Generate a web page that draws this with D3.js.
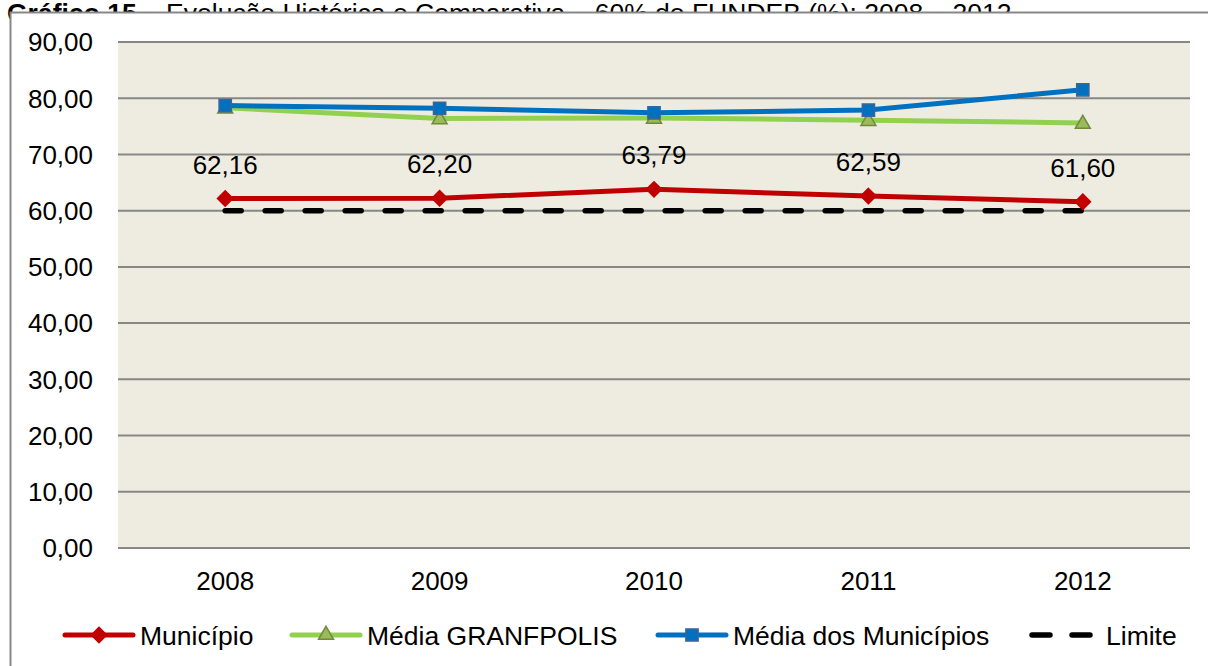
<!DOCTYPE html>
<meta charset="utf-8">
<style>
    body { margin: 0; background: #fff; }
    svg text { font-family: "Liberation Sans", Arial, sans-serif; fill: #000; }
    .grid line { stroke: #878787; stroke-width: 2px; }
    .series { fill: none; stroke-linejoin: round; stroke-linecap: round; }
</style>
<svg width="1208" height="666"></svg>
<script src="https://cdn.jsdelivr.net/npm/d3@7/dist/d3.min.js"></script>
<script>

    // values
    var years = ["2008", "2009", "2010", "2011", "2012"];
    var municipio = [62.16, 62.20, 63.79, 62.59, 61.60];
    var mediaGranfpolis = [78.3, 76.4, 76.5, 76.1, 75.6];
    var mediaMunicipios = [78.7, 78.2, 77.4, 77.9, 81.5];
    var limite = [60, 60, 60, 60, 60];
    var yTicks = [0, 10, 20, 30, 40, 50, 60, 70, 80, 90];

    var svg = d3.select("svg");
    var fmt = function (v) { return d3.format(".2f")(v).replace(".", ","); };

    // title, partly hidden behind the chart frame
    var title = svg.append("text").attr("x", 7).attr("y", 22).style("font-size", "26.5px");
    title.append("tspan").style("font-weight", "bold").text("Gráfico 15");
    title.append("tspan").text(" – Evolução Histórica e Comparativa – 60% do FUNDEB (%): 2008 – 2012");

    // chart frame
    svg.append("rect")
        .attr("x", 10.5).attr("y", 12.5)
        .attr("width", 1210).attr("height", 670)
        .attr("fill", "#fff")
        .attr("stroke", "#878787").attr("stroke-width", 2);

    var plotLeft = 118, plotRight = 1190, plotTop = 42, plotBottom = 548;

    var x = d3.scalePoint().domain(years).range([plotLeft, plotRight]).padding(0.5);
    var y = d3.scaleLinear().domain([0, 90]).range([plotBottom, plotTop]);

    svg.append("rect")
        .attr("x", plotLeft).attr("y", plotTop)
        .attr("width", plotRight - plotLeft).attr("height", plotBottom - plotTop)
        .attr("fill", "#EEECE1");

    svg.append("g").attr("class", "grid")
        .selectAll("line").data(yTicks).join("line")
        .attr("x1", plotLeft).attr("x2", plotRight)
        .attr("y1", function (d) { return y(d); })
        .attr("y2", function (d) { return y(d); });

    // y axis labels
    svg.append("g")
        .selectAll("text").data(yTicks).join("text")
        .attr("x", 93).attr("y", function (d) { return y(d); })
        .attr("dy", "0.36em")
        .attr("text-anchor", "end")
        .style("font-size", "26px")
        .text(fmt);

    // x axis labels
    svg.append("g")
        .selectAll("text").data(years).join("text")
        .attr("x", function (d) { return x(d); })
        .attr("y", 590)
        .attr("text-anchor", "middle")
        .style("font-size", "26px")
        .text(function (d) { return d; });

    var line = d3.line()
        .x(function (d, i) { return x(years[i]); })
        .y(function (d) { return y(d); });

    var diamond = d3.symbol().type(d3.symbolDiamond2).size(150);
    var square = d3.symbol().type(d3.symbolSquare2).size(190);
    var triangle = d3.symbol().type(d3.symbolTriangle2).size(160);

    var series = [
        { name: "Média GRANFPOLIS", values: mediaGranfpolis, color: "#92D050", width: 5,
          marker: triangle, mfill: "#9BBB59", mstroke: "#71893F", dy: 1 },
        { name: "Média dos Municípios", values: mediaMunicipios, color: "#0070C0", width: 5,
          marker: square, mfill: "#0070C0", mstroke: "#3C6496", dy: 0 },
        { name: "Município", values: municipio, color: "#C00000", width: 5,
          marker: diamond, mfill: "#C00000", mstroke: "#C00000", dy: 0 }
    ];

    // Limite dashed line
    svg.append("path").datum(limite)
        .attr("class", "series")
        .attr("d", line)
        .attr("stroke", "#000")
        .attr("stroke-width", 5.5)
        .attr("stroke-dasharray", "16 24");

    series.forEach(function (s) {
        svg.append("path").datum(s.values)
            .attr("class", "series")
            .attr("d", line)
            .attr("stroke", s.color)
            .attr("stroke-width", s.width);

        svg.append("g")
            .selectAll("path").data(s.values).join("path")
            .attr("transform", function (d, i) {
                return "translate(" + x(years[i]) + "," + (y(d) + s.dy) + ")";
            })
            .attr("d", s.marker)
            .attr("fill", s.mfill)
            .attr("stroke", s.mstroke)
            .attr("stroke-width", 1.5);
    });

    // data labels of Município
    svg.append("g")
        .selectAll("text").data(municipio).join("text")
        .attr("x", function (d, i) { return x(years[i]); })
        .attr("y", function (d) { return y(d) - 25; })
        .attr("text-anchor", "middle")
        .style("font-size", "26px")
        .text(fmt);

    // legend
    var legend = [
        { name: "Município", x: 65, color: "#C00000", marker: diamond, mfill: "#C00000", mstroke: "#C00000", width: 5 },
        { name: "Média GRANFPOLIS", x: 292, color: "#92D050", marker: triangle, mfill: "#9BBB59", mstroke: "#71893F", width: 5 },
        { name: "Média dos Municípios", x: 658, color: "#0070C0", marker: square, mfill: "#0070C0", mstroke: "#3C6496", width: 5 },
        { name: "Limite", x: 1030, color: "#000", marker: null, width: 5.5 }
    ];
    var ly = 635;

    var lg = svg.append("g").selectAll("g").data(legend).join("g")
        .attr("transform", function (d) { return "translate(" + d.x + "," + ly + ")"; });

    lg.append("line")
        .attr("x1", 0).attr("x2", 68)
        .attr("stroke", function (d) { return d.color; })
        .attr("stroke-width", function (d) { return d.width; })
        .attr("stroke-linecap", "round")
        .attr("stroke-dasharray", function (d) { return d.marker ? null : "18 22"; })
        .attr("transform", function (d) { return d.marker ? null : "translate(2,0)"; });

    lg.filter(function (d) { return d.marker; })
        .append("path")
        .attr("transform", "translate(34,0)")
        .attr("d", function (d) { return d.marker(); })
        .attr("fill", function (d) { return d.mfill; })
        .attr("stroke", function (d) { return d.mstroke; })
        .attr("stroke-width", 1.5);

    lg.append("text")
        .attr("x", function (d) { return d.marker ? 75 : 76; })
        .attr("dy", "0.36em")
        .style("font-size", "26.5px")
        .text(function (d) { return d.name; });

</script>
